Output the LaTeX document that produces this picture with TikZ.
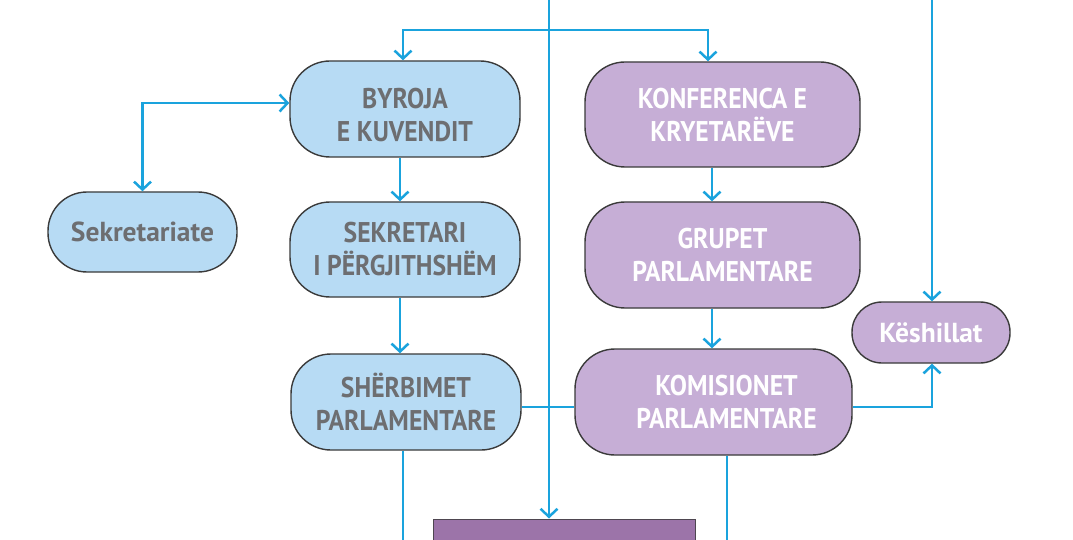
\documentclass[tikz,border=0pt]{standalone}
\usepackage{fontspec}
\setmainfont{PT Sans}[BoldFont={* Bold}]
\newfontfamily\capsfont{PT Sans Bold}[FakeStretch=0.9]
\usetikzlibrary{arrows.meta,shapes.misc}
\definecolor{lineblue}{HTML}{1AA3DD}
\definecolor{boxblue}{HTML}{B7DBF4}
\definecolor{boxpurple}{HTML}{C6AED6}
\definecolor{darkpurple}{HTML}{9C74A9}
\definecolor{txtgray}{HTML}{6D6E71}
\definecolor{edge}{HTML}{3A3A3A}
\tikzset{
  base/.style={rounded corners=40pt, draw=edge, line width=1.4pt, align=center,
    font=\capsfont\fontsize{28.5}{33}\selectfont, inner sep=0pt},
  lower/.style={font=\bfseries\fontsize{27.5}{32}\selectfont},
  bluebox/.style={base, fill=boxblue, text=txtgray},
  purplebox/.style={base, fill=boxpurple, text=white},
  conn/.style={draw=lineblue, line width=2.5pt},
  arr/.style={conn, -{Straight Barb[length=8pt,width=17pt,line width=2.5pt]}},
  arrboth/.style={conn, {Straight Barb[length=8pt,width=17pt,line width=2.5pt]}-{Straight Barb[length=8pt,width=17pt,line width=2.5pt]}}
}
\begin{document}
\begin{tikzpicture}[x=1pt,y=-1pt]
\useasboundingbox (0,0) rectangle (1073,540);
\clip (0,0) rectangle (1073,540);
\fill[white] (0,0) rectangle (1073,540);
% nodes
\node[bluebox, minimum width=230pt, minimum height=96pt] (byroja) at (405,109) {\rule{0pt}{32pt}BYROJA\\E KUVENDIT};
\node[bluebox, minimum width=230pt, minimum height=95pt] (sekr) at (405,249.5) {SEKRETARI\\I PËRGJITHSHËM};
\node[bluebox, minimum width=230pt, minimum height=96pt] (sherb) at (406,402) {SHËRBIMET\\PARLAMENTARE};
\node[bluebox, lower, rounded corners=39pt, minimum width=189pt, minimum height=80pt] (sekt) at (142.5,232) {Sekretariate};
\node[purplebox, minimum width=275pt, minimum height=105pt] (konf) at (722.5,114.5) {KONFERENCA E\\KRYETARËVE};
\node[purplebox, minimum width=275pt, minimum height=106pt] (grup) at (722.5,255) {GRUPET\\PARLAMENTARE};
\node[purplebox, minimum width=277pt, minimum height=106pt] (komis) at (713.5,402) {\hspace*{26pt}KOMISIONET\\\hspace*{26pt}PARLAMENTARE};
\node[purplebox, lower, rounded corners=30pt, minimum width=158pt, minimum height=61pt] (kesh) at (931,332.5) {Këshillat};
\node[draw=edge!80!darkpurple, line width=1pt, fill=darkpurple, minimum width=262pt, minimum height=50pt, inner sep=0pt] (bottom) at (564,544) {};
% coordinates
\coordinate (topc) at (549,-10);
\coordinate (topk) at (932,-10);
\coordinate (j1) at (549,30);
\coordinate (endl) at (403,560);
\coordinate (endr) at (727,560);
% connectors
\draw[arr] (topc) -- (bottom.north -| topc);
\draw[arr] (j1) -| ([xshift=-2pt]byroja.north);
\draw[arr] (j1) -| ([xshift=-14.5pt]konf.north);
\draw[arr] (topk) -- ([xshift=1pt]kesh.north);
\draw[arrboth] ([yshift=6pt]byroja.west) -| (sekt.north);
\draw[arr] ([xshift=-5pt]byroja.south) -- ([xshift=-5pt]sekr.north);
\draw[arr] ([xshift=-5pt]sekr.south) -- ([xshift=-5pt]sekr.south |- sherb.north);
\draw[arr] ([xshift=-10.5pt]konf.south) -- ([xshift=-10.5pt]grup.north);
\draw[arr] ([xshift=-10.5pt]grup.south) -- ([xshift=-10.5pt]grup.south |- komis.north);
\draw[conn] ([yshift=-5pt]sherb.east) -- ([yshift=-5pt]komis.west);
\draw[arr] ([yshift=-5pt]komis.east) -| ([xshift=1pt]kesh.south);
\draw[conn] (sherb.south -| endl) -- (endl);
\draw[conn] (komis.south -| endr) -- (endr);
\end{tikzpicture}
\end{document}
